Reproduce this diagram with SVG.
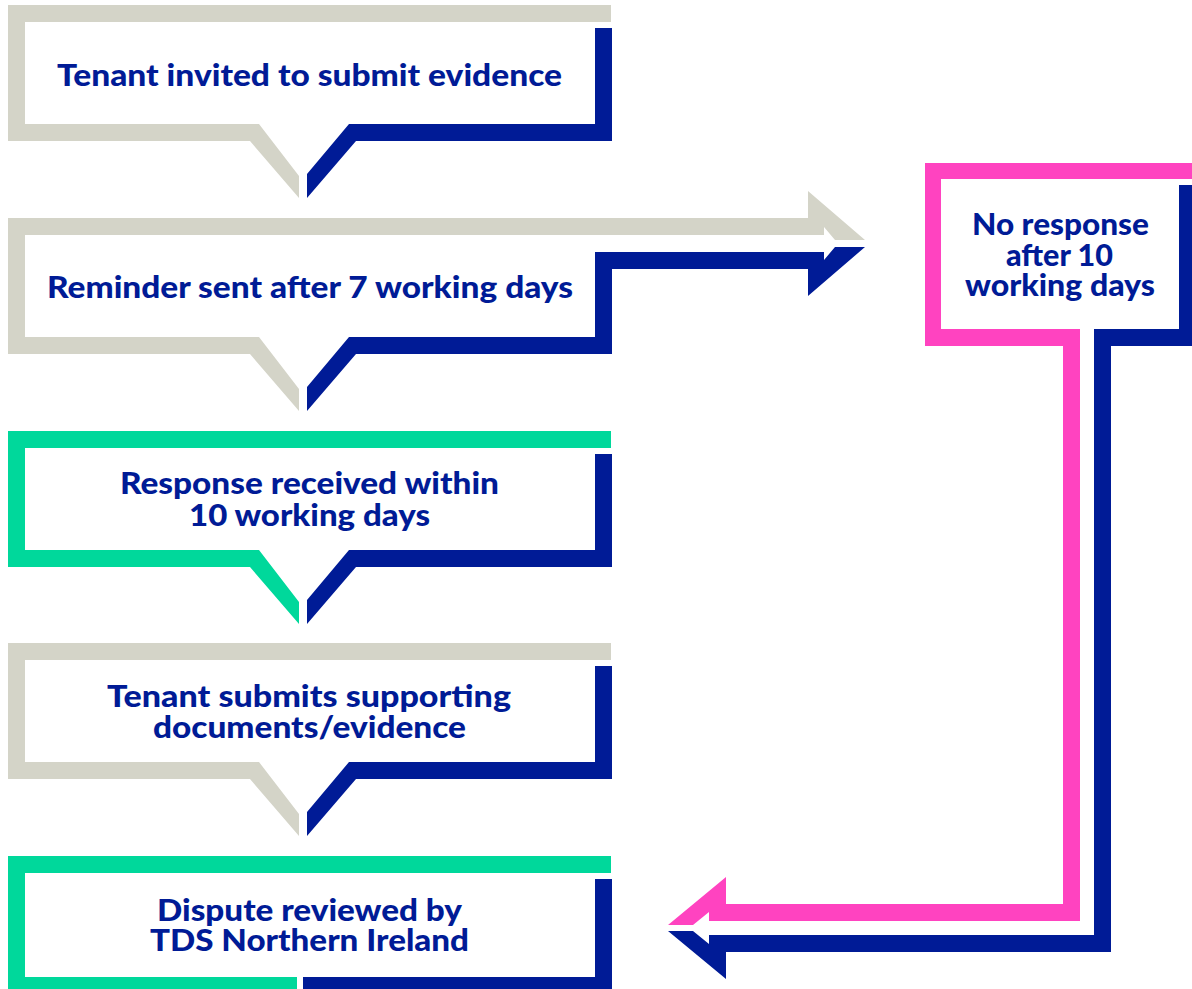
<svg xmlns="http://www.w3.org/2000/svg" width="1192" height="989" viewBox="0 0 1192 989">
<style>
.grey{fill:#D4D4C8}
.navy{fill:#001B96}
.green{fill:#00D89B}
.pink{fill:#FF43C0}
.t{font-family:Lato,"Open Sans","Liberation Sans",sans-serif;font-weight:900;font-size:30px;fill:#001B96;text-anchor:middle}
</style>
<rect width="1192" height="989" fill="#FFFFFF"/>

<g id="node-tenant-invited">
<polygon class="grey" points="8,5 611,5 611,22 25,22 25,124 259,124 299,176 299,198 250,141 8,141"/>
<polygon class="navy" points="595,28 612,28 612,141 356,141 307,198 307,174 349,124 595,124"/>
<text class="t" x="309.5" y="86" textLength="505" lengthAdjust="spacingAndGlyphs">Tenant invited to submit evidence</text>
</g>

<g id="node-reminder">
<polygon class="grey" points="8,218 611,218 611,235 25,235 25,337 259,337 299,389 299,411 250,354 8,354"/>
<polygon class="navy" points="595,252 612,252 612,354 356,354 307,411 307,387 349,337 595,337"/>
<text class="t" x="310" y="298" textLength="526" lengthAdjust="spacingAndGlyphs">Reminder sent after 7 working days</text>
</g>

<g id="node-response-received">
<polygon class="green" points="8,431 611,431 611,448 25,448 25,550 259,550 299,602 299,624 250,567 8,567"/>
<polygon class="navy" points="595,454 612,454 612,567 356,567 307,624 307,600 349,550 595,550"/>
<text class="t" x="309.5" y="494" textLength="379" lengthAdjust="spacingAndGlyphs">Response received within</text>
<text class="t" x="309.5" y="526" textLength="241" lengthAdjust="spacingAndGlyphs">10 working days</text>
</g>

<g id="node-tenant-submits">
<polygon class="grey" points="8,643 611,643 611,660 25,660 25,762 259,762 299,814 299,836 250,779 8,779"/>
<polygon class="navy" points="595,666 612,666 612,779 356,779 307,836 307,812 349,762 595,762"/>
<text class="t" x="309" y="707" textLength="404" lengthAdjust="spacingAndGlyphs">Tenant submits supporting</text>
<text class="t" x="309.5" y="738" textLength="313" lengthAdjust="spacingAndGlyphs">documents/evidence</text>
</g>

<g id="node-dispute-reviewed">
<polygon class="green" points="8,856 611,856 611,873 25,873 25,977 297,977 297,996 8,996"/>
<polygon class="navy" points="595,879 612,879 612,996 303,996 303,977 595,977"/>
<text class="t" x="309.5" y="921" textLength="305" lengthAdjust="spacingAndGlyphs">Dispute reviewed by</text>
<text class="t" x="309.5" y="951" textLength="319" lengthAdjust="spacingAndGlyphs">TDS Northern Ireland</text>
</g>

<g id="node-no-response">
<polygon class="pink" points="925,163 1192,163 1192,179 941,179 941,329 1080,329 1080,346 925,346"/>
<polygon class="navy" points="1179,185 1192,185 1192,346 1094,346 1094,329 1179,329"/>
<text class="t" x="1060.5" y="235" textLength="177" lengthAdjust="spacingAndGlyphs">No response</text>
<text class="t" x="1059.5" y="266" textLength="107" lengthAdjust="spacingAndGlyphs">after 10</text>
<text class="t" x="1060" y="296" textLength="190" lengthAdjust="spacingAndGlyphs">working days</text>
</g>

<g id="connectors">
<polygon class="grey" points="611,218 808,218 808,191 865,240 835,240 824,227 824,235 611,235"/>
<polygon class="navy" points="612,252 824,252 824,260 835,247 865,247 808,296 808,269 612,269"/>
<polygon class="pink" points="1063,329 1080,329 1080,921 709,921 709,912 693,925 668,925 726,877 726,904 1063,904"/>
<polygon class="navy" points="1094,329 1111,329 1111,952 726,952 726,979 668,931 693,931 709,944 709,935 1094,935"/>
</g>
</svg>
